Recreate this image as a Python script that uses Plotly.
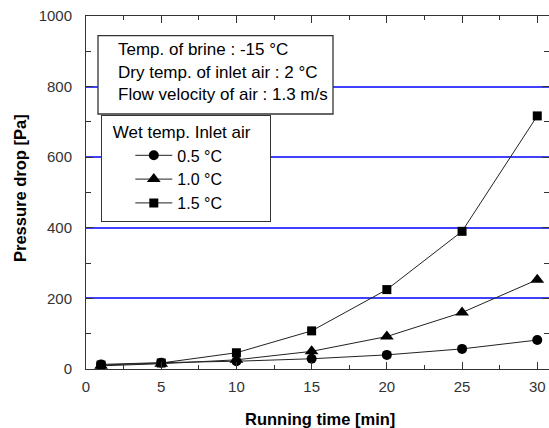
import plotly.graph_objects as go

# ---- data ----
time_min = [1, 5, 10, 15, 20, 25, 30]
dp_05 = [13, 18, 22, 29, 40, 57, 82]
dp_10 = [9, 15, 26, 50, 92, 160, 253]
dp_15 = [11, 17, 46, 108, 225, 390, 717]
series_names = ["0.5 °C", "1.0 °C", "1.5 °C"]
x_ticks = [0, 5, 10, 15, 20, 25, 30]
y_ticks = [0, 200, 400, 600, 800, 1000]
info_lines = [
    "Temp. of brine : -15 °C",
    "Dry temp. of inlet air : 2 °C",
    "Flow velocity of air : 1.3 m/s",
]
legend_title = "Wet temp. Inlet air"
x_title = "Running time [min]"
y_title = "Pressure drop [Pa]"

FONT = "Liberation Sans, Arial, sans-serif"
W, H = 549, 428
L, R, T, B = 86, 0, 16, 59
PW, PH = W - L - R, H - T - B


def px_x(x):
    return (x - L) / PW


def px_y(y):
    return (H - B - y) / PH


fig = go.Figure()
symbols = ["circle", "triangle-up", "square"]
sizes = [10, 12, 9]
for name, ys, sym, sz in zip(series_names, [dp_05, dp_10, dp_15], symbols, sizes):
    fig.add_trace(go.Scatter(
        x=time_min, y=ys, name=name, mode="lines+markers",
        line=dict(color="#222222", width=1),
        marker=dict(symbol=sym, size=sz, color="black"),
        cliponaxis=False,
    ))

# info box
fig.add_shape(type="rect", xref="paper", yref="paper",
              x0=px_x(98), x1=px_x(333), y0=px_y(114), y1=px_y(35.7),
              line=dict(color="#333333", width=1.3), fillcolor="white", layer="above")
for txt, yc in zip(info_lines, [49.5, 73, 94.7]):
    fig.add_annotation(text=txt, xref="paper", yref="paper", x=px_x(116), y=px_y(yc),
                       xanchor="left", yanchor="middle", showarrow=False,
                       font=dict(family=FONT, size=17, color="black"))

# axis titles
fig.add_annotation(text="<b>" + x_title + "</b>", xref="paper", yref="paper",
                   x=px_x(320), y=px_y(418.5), xanchor="center", yanchor="middle",
                   showarrow=False, borderpad=0,
                   font=dict(family=FONT, size=16.5, color="black"))
fig.add_annotation(text="<b>" + y_title + "</b>", xref="paper", yref="paper",
                   x=px_x(20), y=px_y(188), xanchor="center", yanchor="middle",
                   textangle=-90, showarrow=False,
                   font=dict(family=FONT, size=16.5, color="black"))

fig.update_layout(
    width=W, height=H,
    margin=dict(l=L, r=R, t=T, b=B),
    plot_bgcolor="white", paper_bgcolor="white",
    font=dict(family=FONT, color="black"),
    showlegend=True,
    legend=dict(
        x=px_x(101), y=px_y(115), xanchor="left", yanchor="top",
        bgcolor="white", bordercolor="#333333", borderwidth=1.3,
        font=dict(family=FONT, size=16, color="black"),
        title=dict(text="\u2002" + legend_title + "\u2003", font=dict(family=FONT, size=17, color="black")),
        tracegroupgap=0, indentation=28, itemwidth=37,
    ),
    xaxis=dict(
        range=[0, 30.78], tickvals=x_ticks, ticktext=[str(v) for v in x_ticks],
        ticks="inside", ticklen=7, tickcolor="#333333", tickwidth=1,
        minor=dict(dtick=2.5, tick0=0, ticks="inside", ticklen=4, tickcolor="#333333", showgrid=False),
        showline=True, linecolor="#333333", linewidth=1, mirror="ticks",
        showgrid=False, zeroline=False, automargin=False,
        tickfont=dict(family=FONT, size=15, color="#333333"),
        ticklabelstandoff=4,
    ),
    yaxis=dict(
        range=[0, 1000], tickvals=y_ticks, ticktext=[str(v) for v in y_ticks],
        ticks="inside", ticklen=7, tickcolor="#333333", tickwidth=1,
        minor=dict(dtick=100, tick0=0, ticks="inside", ticklen=5, tickcolor="#333333", showgrid=False),
        showline=True, linecolor="#333333", linewidth=1, mirror="ticks",
        showgrid=True, gridcolor="#4040ff", gridwidth=1.6, zeroline=False, automargin=False,
        tickfont=dict(family=FONT, size=15, color="#333333"),
        ticklabelstandoff=10,
    ),
)

fig.write_html("out.html", config={"displayModeBar": False},
               post_script="document.body.style.margin='0';document.body.style.overflow='hidden';")
